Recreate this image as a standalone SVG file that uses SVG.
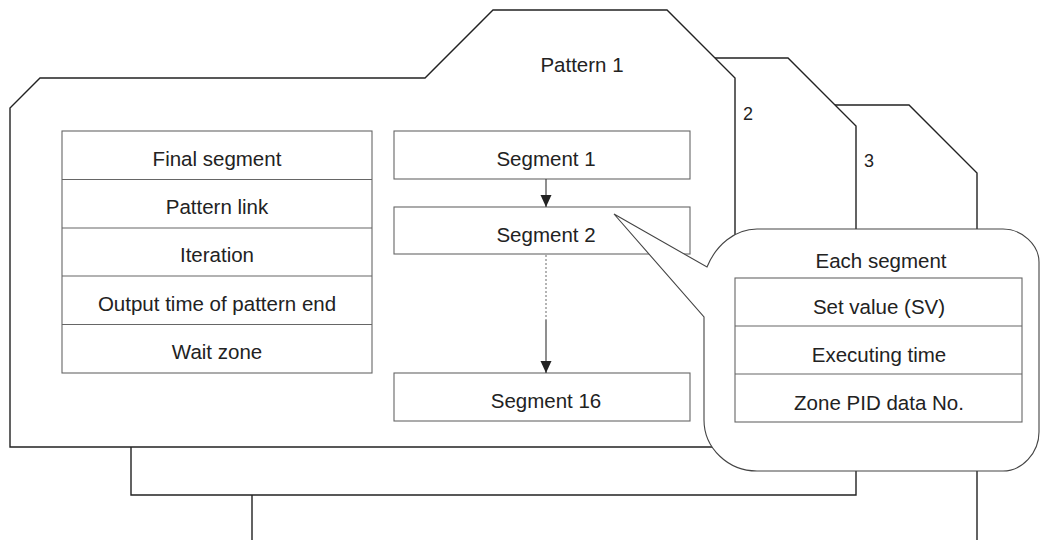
<svg xmlns="http://www.w3.org/2000/svg" width="1040" height="540" viewBox="0 0 1040 540">
<defs>
<style>
.folder{fill:#fff;stroke:#222;stroke-width:1.4;stroke-linejoin:miter}
.box{fill:#fff;stroke:#666;stroke-width:1.1}
.sep{stroke:#666;stroke-width:1.1}
.t{font-family:"Liberation Sans",Arial,sans-serif;font-size:20.5px;fill:#222;text-anchor:middle}
.n{font-family:"Liberation Sans",Arial,sans-serif;font-size:18px;fill:#222}
.conn{stroke:#333;stroke-width:1.1;fill:none}
.dot{stroke:#777;stroke-width:1.1;stroke-dasharray:2 2;fill:none}
.callout{fill:#fff;stroke:#444;stroke-width:1.1}
</style>
<marker id="ah" viewBox="0 0 12 12" refX="12" refY="6" markerWidth="12" markerHeight="12" markerUnits="userSpaceOnUse" orient="auto">
<path d="M0,0.5 L12,6 L0,11.5 Z" fill="#222"/>
</marker>
</defs>

<g id="pattern3">
<path class="folder" d="M252,560 V203 L282,173 H667 L735,105 H909 L977,173 V560 Z"/>
<text class="n" x="864" y="167">3</text>
</g>

<g id="pattern2">
<path class="folder" d="M131,495 V156 L161,126 H546 L614,58 H788 L856,126 V495 Z"/>
<text class="n" x="743" y="120">2</text>
</g>

<g id="pattern1">
<path class="folder" d="M10,447 V108 L40,78 H425 L493,10 H667 L735,78 V447 Z"/>
<text class="t" x="582" y="72">Pattern 1</text>
</g>

<g id="pattern-settings">
<rect class="box" x="62" y="131" width="310" height="242"/>
<line class="sep" x1="62" y1="179.5" x2="372" y2="179.5"/>
<line class="sep" x1="62" y1="228" x2="372" y2="228"/>
<line class="sep" x1="62" y1="276" x2="372" y2="276"/>
<line class="sep" x1="62" y1="324.5" x2="372" y2="324.5"/>
<text class="t" x="217" y="166">Final segment</text>
<text class="t" x="217" y="214">Pattern link</text>
<text class="t" x="217" y="262">Iteration</text>
<text class="t" x="217" y="311">Output time of pattern end</text>
<text class="t" x="217" y="359">Wait zone</text>
</g>

<g id="segment1">
<rect class="box" x="394" y="131" width="296" height="48"/>
<text class="t" x="546" y="166">Segment 1</text>
</g>

<g id="segment2">
<rect class="box" x="394" y="207" width="296" height="47"/>
<text class="t" x="546" y="242">Segment 2</text>
</g>

<g id="segment16">
<rect class="box" x="394" y="373" width="296" height="48"/>
<text class="t" x="546" y="408">Segment 16</text>
</g>

<g id="connectors">
<line class="conn" x1="546" y1="179" x2="546" y2="207" marker-end="url(#ah)"/>
<line class="dot" x1="546" y1="255" x2="546" y2="320"/>
<line class="conn" x1="546" y1="320" x2="546" y2="373" marker-end="url(#ah)"/>
</g>

<g id="each-segment">
<path class="callout" d="M614,214 L707,267 C716,245 735,229 757,229 L1003,229 C1022,229 1039,245 1039,262 L1039,432 C1039,453 1022,471 1003,471 L757,471 C728,471 704,448 704,420 L704,317 Z"/>
<text class="t" x="881" y="268">Each segment</text>
<rect class="box" x="735" y="278" width="287" height="144"/>
<line class="sep" x1="735" y1="326" x2="1022" y2="326"/>
<line class="sep" x1="735" y1="374" x2="1022" y2="374"/>
<text class="t" x="879" y="314">Set value (SV)</text>
<text class="t" x="879" y="362">Executing time</text>
<text class="t" x="879" y="410">Zone PID data No.</text>
</g>
</svg>
